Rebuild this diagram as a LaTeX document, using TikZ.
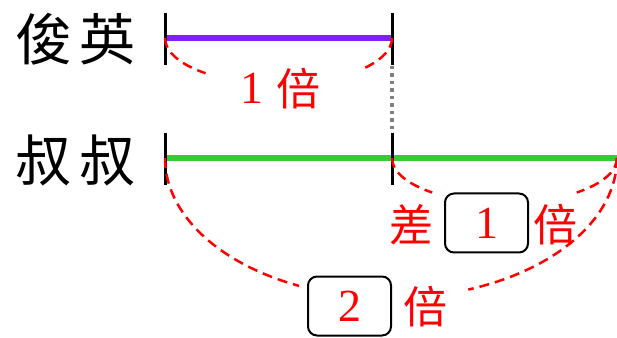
\documentclass[tikz,border=0pt]{standalone}
\usepackage{fontspec}
\setmainfont{Liberation Serif}
\newfontfamily\numfont{Liberation Serif}
\newfontfamily\cjk{Noto Sans CJK TC}
\usetikzlibrary{positioning}
\definecolor{barpurple}{RGB}{128,32,255}
\definecolor{bargreen}{RGB}{51,204,51}
\definecolor{markred}{RGB}{255,0,0}
\definecolor{dotgray}{RGB}{128,128,128}

\begin{document}
\begin{tikzpicture}[x=1pt,y=1pt,
		tick/.style={line width=3pt},
		bar/.style={line width=6pt},
		arcline/.style={markred, line width=2.5pt, dash pattern=on 10pt off 6pt},
		personname/.style={font=\fontsize{56}{60}\selectfont\cjk, inner sep=0pt},
		redtext/.style={text=markred, font=\fontsize{46}{48}\selectfont\numfont, inner sep=0pt},
		redcjk/.style={text=markred, font=\fontsize{44}{48}\selectfont\cjk, inner sep=0pt},
		numbox/.style={draw=black, line width=2pt, rounded corners=9pt, minimum width=83pt, minimum height=59pt, inner sep=0pt, text=markred, font=\fontsize{46}{48}\selectfont\numfont}]
		\useasboundingbox (0,0) rectangle (617,337);

		% names
		\node[personname] (jy) at (76, 298) {俊\hspace{8pt}英};
		\node[personname] (sh) at (76, 177) {叔\hspace{8pt}叔};

		% end points of the bars
		\coordinate (jyL) at (165, 299);
		\coordinate (jyR) at (392, 299);
		\coordinate (shL) at (165, 179);
		\coordinate (shM) at (392, 179);
		\coordinate (shR) at (617, 179);

		% bars
		\draw[bar, barpurple] (jyL) -- (jyR);
		\draw[bar, bargreen] (shL) -- (shR);

		% ticks
		\draw[tick] ([yshift=25pt]jyL) -- ([yshift=-27pt]jyL);
		\draw[tick] ([yshift=25pt]jyR) -- ([yshift=-27pt]jyR);
		\draw[tick] ([yshift=25pt]shL) -- ([yshift=-27pt]shL);
		\draw[tick] ([yshift=25pt]shM) -- ([yshift=-27pt]shM);
		\draw[dotgray, line width=3.5pt, dash pattern=on 3.5pt off 4pt] ([yshift=-28pt]jyR) -- ([yshift=26pt]shM);

		% arcs
		\draw[arcline] (jyL) arc[start angle=180, end angle=230, x radius=113.5, y radius=46];
		\draw[arcline] (jyR) arc[start angle=360, end angle=316, x radius=113.5, y radius=46];
		\draw[arcline] (shM) arc[start angle=180, end angle=230, x radius=112.5, y radius=45];
		\draw[arcline] (shR) arc[start angle=360, end angle=310, x radius=112.5, y radius=45];
		\draw[arcline] (shL) arc[start angle=180, end angle=246, x radius=226, y radius=140];
		\draw[arcline] (shR) arc[start angle=360, end angle=290, x radius=226, y radius=140];

		% labels
		\node[redtext] (one) at (252, 249) {1};
		\node[redcjk] (bei0) at (298, 248) {倍};

		\node[numbox] (b1) at (486.5, 114) {1};
		\node[redcjk] (cha) at (411.5, 112) {差};
		\node[redcjk] (bei1) at (555.5, 112) {倍};

		\node[numbox] (b2) at (349.5, 31) {2};
		\node[redcjk] (bei2) at (425, 30) {倍};
	\end{tikzpicture}
\end{document}
